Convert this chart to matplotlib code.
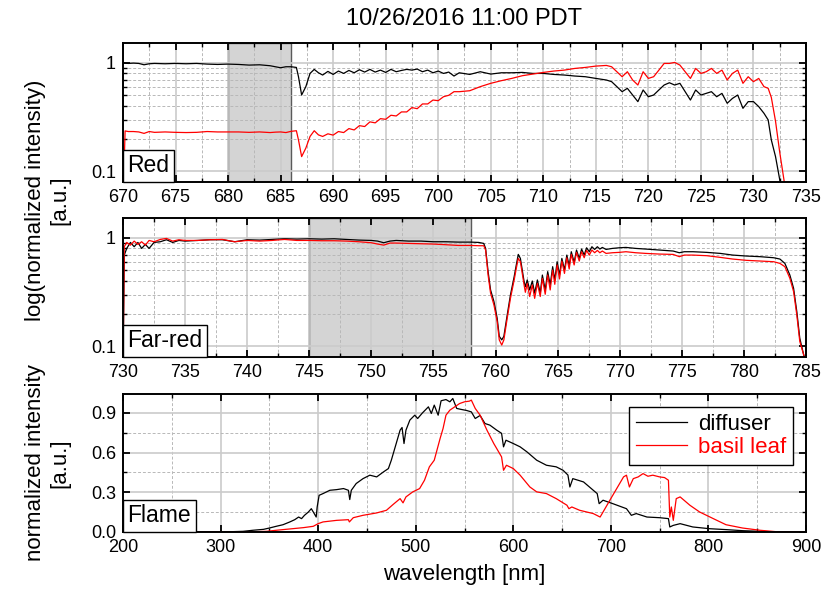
import numpy as np
import matplotlib as mpl
import matplotlib.pyplot as plt
from matplotlib.ticker import MultipleLocator, FixedLocator, NullFormatter
from matplotlib.offsetbox import AnchoredText

# ---------------- data ----------------
# Red window (log scale)
red_wl = [670.0, 670.2, 670.5, 671, 671.5, 672, 672.5, 673, 674, 675, 676, 677, 678, 679,
          680, 681, 682, 683, 684, 684.5, 685, 685.5, 686, 686.5, 686.7, 687.0, 687.4,
          687.8, 688.2, 688.6, 689.0, 689.5, 690.0, 690.5, 691.0, 691.5, 692.0, 692.5,
          693.0, 693.5, 694.0, 694.5, 695.0, 695.5, 696.0, 696.5, 697.0, 697.5, 698.0,
          698.5, 699.0, 699.5, 700.0, 700.5, 701.0, 701.5, 702.0, 703, 704, 705, 706,
          707, 708, 709, 710, 711, 712, 713, 714, 715, 716, 716.5, 717, 717.5, 718,
          718.5, 719, 719.5, 720, 720.5, 721, 721.5, 722, 722.5, 723, 723.5, 724, 724.5,
          725, 725.5, 726, 726.5, 727, 727.5, 728, 728.5, 729, 729.5, 730, 730.5, 731,
          731.4, 731.7, 732.1, 732.5, 732.9, 733.2]
red_diffuser = [1.00, 0.993, 0.986, 0.993, 0.986, 0.958, 0.979, 0.986, 0.979, 0.986, 0.979,
                0.986, 0.972, 0.965, 0.972, 0.965, 0.952, 0.958, 0.939, 0.919, 0.900, 0.919,
                0.919, 0.906, 0.744, 0.505, 0.603, 0.798, 0.869, 0.809, 0.771, 0.833, 0.781,
                0.839, 0.798, 0.850, 0.809, 0.863, 0.821, 0.869, 0.821, 0.856, 0.815, 0.869,
                0.827, 0.850, 0.869, 0.856, 0.875, 0.827, 0.856, 0.809, 0.839, 0.798, 0.821,
                0.755, 0.809, 0.781, 0.827, 0.787, 0.809, 0.809, 0.815, 0.798, 0.798, 0.781,
                0.771, 0.755, 0.744, 0.718, 0.694, 0.670, 0.603, 0.542, 0.582, 0.505, 0.439,
                0.562, 0.487, 0.505, 0.562, 0.624, 0.655, 0.624, 0.647, 0.542, 0.454, 0.562,
                0.505, 0.523, 0.542, 0.487, 0.523, 0.424, 0.470, 0.505, 0.381, 0.439, 0.439,
                0.395, 0.343, 0.298, 0.195, 0.137, 0.084, 0.05, 0.03]
red_basil = [0.05, 0.236, 0.233, 0.233, 0.231, 0.224, 0.233, 0.229, 0.231, 0.229, 0.228,
             0.229, 0.233, 0.231, 0.231, 0.231, 0.229, 0.231, 0.228, 0.230, 0.231, 0.228,
             0.234, 0.237, 0.195, 0.137, 0.164, 0.210, 0.237, 0.217, 0.210, 0.222, 0.216,
             0.233, 0.228, 0.248, 0.241, 0.264, 0.259, 0.286, 0.280, 0.306, 0.302, 0.329,
             0.324, 0.353, 0.353, 0.387, 0.378, 0.418, 0.418, 0.454, 0.448, 0.487, 0.502,
             0.542, 0.542, 0.553, 0.603, 0.647, 0.684, 0.718, 0.760, 0.787, 0.815, 0.839,
             0.856, 0.887, 0.906, 0.932, 0.945, 0.919, 0.827, 0.744, 0.827, 0.694, 0.624,
             0.827, 0.718, 0.744, 0.856, 0.986, 0.986, 1.007, 0.952, 0.827, 0.718, 0.887,
             0.798, 0.827, 0.887, 0.798, 0.856, 0.694, 0.798, 0.856, 0.647, 0.744, 0.670,
             0.718, 0.603, 0.582, 0.480, 0.290, 0.150, 0.084, 0.05]

# Far-red window (log scale)
far_wl = [730.0, 730.1, 730.3, 730.6, 730.9, 731.2, 731.5, 731.8, 732.1, 732.5, 733, 733.5,
          734, 734.5, 735, 736, 737, 738, 739, 740, 741, 742, 743, 744, 745, 746, 747, 748,
          749, 750, 750.5, 751, 751.5, 752, 753, 754, 755, 756, 757, 758, 758.65, 759.05,
          759.2, 759.4, 759.6, 759.87, 760.13, 760.3, 760.5, 760.67, 760.94, 761.2, 761.5,
          761.67, 761.83, 762.0, 762.3, 762.4, 762.55, 762.75, 762.96, 763.15, 763.37,
          763.6, 763.77, 764.0, 764.2, 764.4, 764.6, 764.77, 764.96, 765.15, 765.34,
          765.55, 765.74, 765.93, 766.1, 766.33, 766.52, 766.74, 766.93, 767.14, 767.33,
          767.55, 767.76, 767.98, 768.2, 768.4, 768.6, 768.9, 769.4, 769.97, 770.5, 771.3,
          772.1, 773.2, 774.3, 774.8, 775.2, 775.9, 777.0, 778.1, 779.1, 780.2, 781.3,
          782.4, 782.9, 783.3, 783.7, 784.0, 784.26, 784.5, 784.8, 785.0]
far_diffuser = [0.05, 0.693, 0.798, 0.906, 0.827, 0.906, 0.798, 0.869, 0.798, 0.906, 0.919,
                0.959, 0.906, 0.945, 0.932, 0.945, 0.959, 0.959, 0.919, 0.959, 0.952, 0.965,
                0.979, 0.972, 0.979, 0.972, 0.979, 0.965, 0.952, 0.945, 0.932, 0.900, 0.932,
                0.945, 0.932, 0.932, 0.919, 0.919, 0.912, 0.912, 0.906, 0.887, 0.798, 0.488,
                0.331, 0.259, 0.182, 0.124, 0.115, 0.124, 0.195, 0.298, 0.439, 0.562, 0.703,
                0.646, 0.395, 0.355, 0.409, 0.331, 0.400, 0.309, 0.409, 0.309, 0.454, 0.331,
                0.488, 0.368, 0.542, 0.409, 0.602, 0.454, 0.646, 0.505, 0.693, 0.553, 0.744,
                0.594, 0.771, 0.646, 0.787, 0.693, 0.809, 0.744, 0.827, 0.781, 0.827, 0.787,
                0.815, 0.781, 0.798, 0.809, 0.815, 0.798, 0.787, 0.771, 0.755, 0.728, 0.744,
                0.744, 0.734, 0.718, 0.693, 0.679, 0.670, 0.655, 0.637, 0.581, 0.454, 0.343,
                0.209, 0.119, 0.085, 0.07]
far_basil = [0.05, 0.827, 0.906, 0.856, 0.932, 0.869, 0.919, 0.856, 0.945, 0.919, 0.965,
             0.986, 0.932, 0.959, 0.945, 0.945, 0.959, 0.965, 0.919, 0.945, 0.932, 0.945,
             0.965, 0.945, 0.945, 0.939, 0.939, 0.932, 0.919, 0.900, 0.875, 0.856, 0.894,
             0.894, 0.887, 0.881, 0.875, 0.863, 0.850, 0.850, 0.845, 0.845, 0.771, 0.454,
             0.309, 0.241, 0.170, 0.115, 0.103, 0.115, 0.182, 0.277, 0.409, 0.523, 0.646,
             0.602, 0.368, 0.315, 0.381, 0.288, 0.368, 0.277, 0.381, 0.288, 0.423, 0.302,
             0.454, 0.331, 0.505, 0.373, 0.562, 0.418, 0.611, 0.470, 0.655, 0.516, 0.703,
             0.562, 0.734, 0.611, 0.744, 0.655, 0.765, 0.693, 0.771, 0.728, 0.765, 0.728,
             0.755, 0.718, 0.728, 0.734, 0.744, 0.728, 0.718, 0.708, 0.703, 0.670, 0.693,
             0.693, 0.684, 0.660, 0.637, 0.620, 0.611, 0.602, 0.581, 0.542, 0.424, 0.320,
             0.195, 0.111, 0.085, 0.07]

# Flame (linear scale)
flame_wl_diffuser = [200, 279, 300, 323, 333, 344, 350, 357, 364, 371, 376, 380, 383, 386,
                     390, 393, 396, 398, 399, 401, 405, 412, 419, 426, 431, 432.4, 434, 439,
                     446, 453, 460, 467, 472, 475, 480, 484, 486, 488, 490, 494, 499, 502,
                     507, 513, 516, 519, 523, 526, 531, 535, 538, 542, 547, 552, 557, 561,
                     566, 571, 576, 583, 588, 590, 592.5, 600, 607, 614, 624, 634, 644, 651,
                     656, 658, 661, 672, 682, 686, 688, 692, 702, 716, 721, 726, 737, 750,
                     759, 760.4, 764, 771, 784, 801, 818, 835, 853, 873, 900]
flame_diffuser = [0, 0, 0, 0.005, 0.013, 0.02, 0.03, 0.043, 0.055, 0.076, 0.093, 0.113,
                  0.101, 0.126, 0.151, 0.176, 0.139, 0.113, 0.189, 0.277, 0.29, 0.315, 0.32,
                  0.328, 0.315, 0.245, 0.315, 0.366, 0.403, 0.429, 0.416, 0.454, 0.479,
                  0.542, 0.668, 0.769, 0.789, 0.668, 0.769, 0.845, 0.882, 0.857, 0.900,
                  0.945, 0.895, 0.958, 0.882, 0.991, 1.0, 0.983, 1.008, 0.933, 0.925, 0.918,
                  0.907, 0.857, 0.88, 0.819, 0.807, 0.769, 0.745, 0.643, 0.693, 0.668,
                  0.643, 0.605, 0.542, 0.504, 0.492, 0.466, 0.43, 0.340, 0.403, 0.378,
                  0.315, 0.290, 0.214, 0.240, 0.214, 0.176, 0.126, 0.139, 0.113, 0.108,
                  0.101, 0.038, 0.050, 0.063, 0.038, 0.025, 0.018, 0.010, 0.005, 0, 0]
flame_wl_basil = [200, 323, 347, 357, 371, 385, 395, 400, 405, 419, 431, 432, 436, 446, 460,
                  470, 477, 484, 487, 490, 497, 504, 509, 514, 519, 525, 528, 531, 535, 540,
                  545, 550, 555, 557, 561, 566, 573, 580, 585, 588, 590, 593, 600, 607, 617,
                  624, 634, 644, 655, 657, 660, 668, 682, 689, 692, 699, 706, 713, 716, 719,
                  723, 728, 733, 738, 743, 750, 755, 759, 760.4, 762, 764, 767, 771, 781,
                  791, 805, 818, 835, 853, 873, 900]
flame_basil = [0, 0, 0.005, 0.013, 0.023, 0.033, 0.043, 0.063, 0.076, 0.088, 0.093, 0.076,
               0.108, 0.126, 0.144, 0.164, 0.209, 0.252, 0.22, 0.265, 0.303, 0.328, 0.391,
               0.492, 0.542, 0.706, 0.781, 0.882, 0.920, 0.945, 0.970, 0.983, 0.988, 0.996,
               0.933, 0.882, 0.769, 0.668, 0.605, 0.567, 0.466, 0.504, 0.479, 0.429, 0.340,
               0.303, 0.290, 0.252, 0.202, 0.176, 0.189, 0.164, 0.139, 0.113, 0.151, 0.240,
               0.328, 0.416, 0.429, 0.340, 0.403, 0.416, 0.441, 0.421, 0.429, 0.416, 0.411,
               0.391, 0.113, 0.189, 0.088, 0.252, 0.265, 0.202, 0.151, 0.101, 0.055, 0.030,
               0.013, 0, 0]

red_band = (680, 686)
far_band = (745, 758)

# ---------------- style ----------------
mpl.rcParams.update({
    "font.family": ["Liberation Sans", "DejaVu Sans"],
    "font.size": 16,
    "xtick.labelsize": 13,
    "ytick.labelsize": 13,
    "axes.linewidth": 1.4,
})

COL_DIFF = "black"
COL_LEAF = "#ff0000"
COL_BAND = "#d4d4d4"
COL_BAND_EDGE = "#5a5a5a"

fig = plt.figure(figsize=(8.34, 5.92), dpi=100)
L, W = 123 / 834, (806 - 123) / 834
ax_red = fig.add_axes([L, 1 - 182 / 592, W, 139 / 592])
ax_far = fig.add_axes([L, 1 - 357 / 592, W, 139 / 592])
ax_flm = fig.add_axes([L, 1 - 532 / 592, W, 138 / 592])


def style_axis(ax, label):
    ax.set_axisbelow(True)
    ax.grid(True, which="major", color="#cbcbcb", lw=1.2, ls="-")
    ax.grid(True, which="minor", color="#b8b8b8", lw=0.7, ls=(0, (3, 2)))
    ax.tick_params(which="both", direction="in", top=True, right=True, color="black")
    ax.tick_params(which="major", length=5, width=1.3, pad=5)
    ax.tick_params(which="minor", length=3, width=1.0)
    at = AnchoredText(label, loc="lower left", frameon=True, pad=0.2, borderpad=0.0,
                      prop=dict(size=16.5))
    at.patch.set_boxstyle("square,pad=0")
    at.patch.set_edgecolor("black")
    at.patch.set_linewidth(1.0)
    at.zorder = 10
    ax.add_artist(at)


def style_log(ax):
    ax.set_yscale("log")
    ax.set_ylim(0.08, 1.52)
    ax.yaxis.set_major_locator(FixedLocator([0.1, 1]))
    ax.set_yticklabels(["0.1", "1"])
    ax.yaxis.set_minor_locator(FixedLocator([0.2, 0.3, 0.4, 0.5, 0.6, 0.7, 0.8, 0.9]))
    ax.yaxis.set_minor_formatter(NullFormatter())


# --- Red panel
ax_red.axvspan(*red_band, fc=COL_BAND, ec=COL_BAND_EDGE, lw=1.0, zorder=0.2)
ax_red.plot(red_wl, red_diffuser, color=COL_DIFF, lw=0.9)
ax_red.plot(red_wl, red_basil, color=COL_LEAF, lw=0.9)
style_log(ax_red)
ax_red.set_xlim(670, 735)
ax_red.xaxis.set_major_locator(MultipleLocator(5))
ax_red.xaxis.set_minor_locator(MultipleLocator(2.5))
style_axis(ax_red, "Red")

# --- Far-red panel
ax_far.axvspan(*far_band, fc=COL_BAND, ec=COL_BAND_EDGE, lw=1.0, zorder=0.2)
ax_far.plot(far_wl, far_diffuser, color=COL_DIFF, lw=0.9)
ax_far.plot(far_wl, far_basil, color=COL_LEAF, lw=0.9)
style_log(ax_far)
ax_far.set_xlim(730, 785)
ax_far.xaxis.set_major_locator(MultipleLocator(5))
ax_far.xaxis.set_minor_locator(MultipleLocator(2.5))
style_axis(ax_far, "Far-red")

# --- Flame panel
ax_flm.plot(flame_wl_diffuser, flame_diffuser, color=COL_DIFF, lw=0.9, label="diffuser")
ax_flm.plot(flame_wl_basil, flame_basil, color=COL_LEAF, lw=0.9, label="basil leaf")
ax_flm.set_xlim(200, 900)
ax_flm.set_ylim(0, 1.042)
ax_flm.xaxis.set_major_locator(MultipleLocator(100))
ax_flm.xaxis.set_minor_locator(MultipleLocator(50))
ax_flm.yaxis.set_major_locator(FixedLocator([0.0, 0.3, 0.6, 0.9]))
ax_flm.set_yticklabels(["0.0", "0.3", "0.6", "0.9"])
ax_flm.yaxis.set_minor_locator(FixedLocator([0.15, 0.45, 0.75]))
style_axis(ax_flm, "Flame")
leg = ax_flm.legend(loc="upper right", fontsize=16, fancybox=False, edgecolor="black",
                    framealpha=1, handlelength=2.3, borderaxespad=0.6,
                    borderpad=0.3, labelspacing=0.1, handletextpad=0.5)
leg.get_frame().set_linewidth(1.0)
for txt, line in zip(leg.get_texts(), leg.get_lines()):
    txt.set_color(line.get_color())

ax_flm.set_xlabel("wavelength [nm]", fontsize=16, labelpad=6)

fig.text(0.057, 1 - 200 / 592, "log(normalized intensity)\n[a.u.]", rotation=90,
         ha="center", va="center", multialignment="center", fontsize=16)
fig.text(0.057, 1 - 463 / 592, "normalized intensity\n[a.u.]", rotation=90,
         ha="center", va="center", multialignment="center", fontsize=16)
fig.text((123 + 806) / 2 / 834, 1 - 19 / 592, "10/26/2016 11:00 PDT",
         ha="center", va="center", fontsize=17)

fig.savefig("out.png", dpi=100)
